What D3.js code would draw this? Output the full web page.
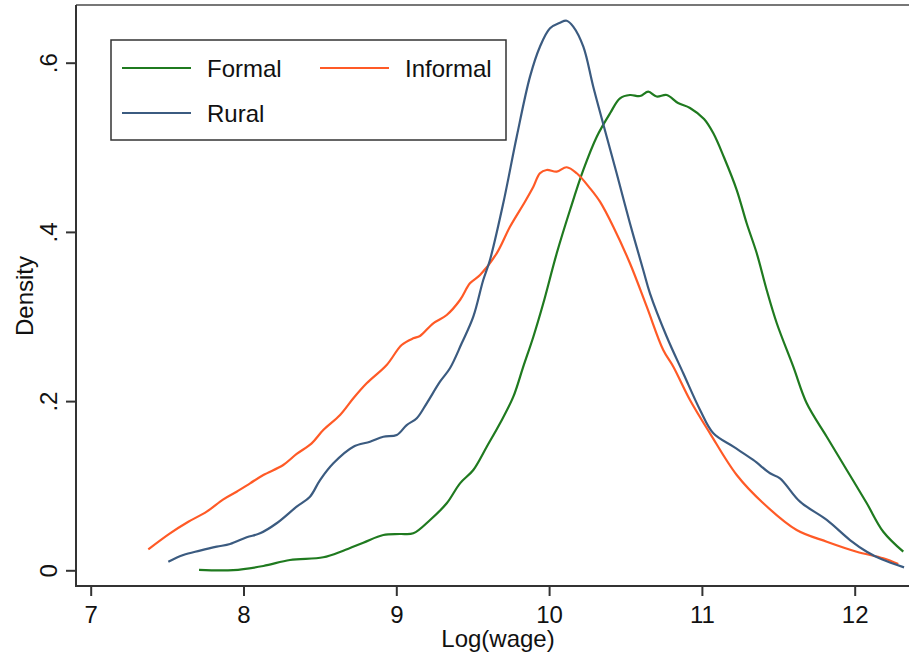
<!DOCTYPE html>
<html>
<head>
<meta charset="utf-8">
<script src="https://cdn.jsdelivr.net/npm/d3@7"></script>
<style>
  html, body { margin: 0; padding: 0; background: #fff; }
  svg text { font-family: "Liberation Sans", Arial, sans-serif; fill: #111; }
</style>
</head>
<body>
<svg id="chart" width="909" height="656"></svg>
<script>
// ---- data (log wage, density) ----
const formalX = [7.709,7.933,8.130,8.304,8.522,8.653,8.784,8.915,9.024,9.111,9.221,9.330,9.417,9.504,9.592,9.679,9.766,9.831,9.897,9.962,10.050,10.137,10.224,10.312,10.399,10.464,10.529,10.595,10.649,10.704,10.770,10.844,10.922,11.014,11.075,11.145,11.228,11.293,11.359,11.424,11.490,11.598,11.686,11.817,11.948,12.079,12.187,12.318];
const formalY = [0.0005,0.0002,0.0051,0.0122,0.0154,0.0232,0.0326,0.0417,0.0429,0.0437,0.0595,0.0792,0.1028,0.1186,0.1461,0.1738,0.2052,0.2407,0.2761,0.3156,0.3747,0.4259,0.4732,0.5125,0.5402,0.5579,0.5618,0.5606,0.5657,0.5600,0.5618,0.5524,0.5465,0.5334,0.5165,0.4879,0.4495,0.4102,0.3747,0.3313,0.2920,0.2407,0.1974,0.1579,0.1186,0.0792,0.0456,0.0220];

const informalX = [7.377,7.519,7.639,7.759,7.868,7.955,8.043,8.130,8.260,8.348,8.446,8.522,8.632,8.719,8.806,8.937,9.035,9.111,9.155,9.242,9.330,9.417,9.482,9.548,9.657,9.744,9.842,9.897,9.940,9.984,10.050,10.115,10.181,10.268,10.333,10.420,10.529,10.639,10.747,10.813,10.922,11.053,11.228,11.402,11.620,11.817,12.013,12.187,12.285];
const informalY = [0.0248,0.0437,0.0574,0.0693,0.0839,0.0929,0.1028,0.1126,0.1245,0.1375,0.1501,0.1658,0.1836,0.2033,0.2210,0.2427,0.2663,0.2742,0.2770,0.2920,0.3018,0.3195,0.3392,0.3491,0.3747,0.4061,0.4357,0.4534,0.4693,0.4732,0.4712,0.4764,0.4693,0.4515,0.4357,0.4061,0.3629,0.3116,0.2604,0.2407,0.2013,0.1619,0.1126,0.0792,0.0476,0.0338,0.0220,0.0142,0.0074];

const ruralX = [7.508,7.606,7.715,7.825,7.912,8.021,8.108,8.217,8.348,8.435,8.501,8.588,8.719,8.828,8.915,9.003,9.068,9.134,9.199,9.286,9.351,9.428,9.504,9.569,9.613,9.700,9.788,9.875,9.940,10.006,10.071,10.115,10.158,10.224,10.289,10.377,10.442,10.529,10.616,10.660,10.770,10.878,10.988,11.075,11.206,11.336,11.446,11.511,11.642,11.817,11.969,12.079,12.177,12.323];
const ruralY = [0.0102,0.0181,0.0232,0.0279,0.0311,0.0390,0.0437,0.0556,0.0752,0.0870,0.1067,0.1265,0.1461,0.1520,0.1579,0.1599,0.1717,0.1797,0.1974,0.2229,0.2388,0.2683,0.2998,0.3431,0.3668,0.4338,0.5125,0.5835,0.6189,0.6407,0.6473,0.6496,0.6426,0.6189,0.5716,0.5125,0.4693,0.4102,0.3550,0.3274,0.2761,0.2329,0.1895,0.1619,0.1461,0.1304,0.1147,0.1087,0.0811,0.0595,0.0358,0.0220,0.0130,0.0035];

const seriesNames = ["Formal", "Informal", "Rural"];
const seriesColors = ["#1f7a1f", "#ff5a26", "#3b5b80"];
const xTicks = [7, 8, 9, 10, 11, 12];
const yTicks = [0, 0.2, 0.4, 0.6];
const yTickLabels = ["0", ".2", ".4", ".6"];
const xTitle = "Log(wage)";
const yTitle = "Density";

(function () {
// ---- layout ----
const svg = d3.select("#chart");
const pLeft = 76, pRight = 909, pTop = 5, pBottom = 586;
const x = d3.scaleLinear().domain([7, 12]).range([90.7, 854.7]);
const y = d3.scaleLinear().domain([0, 0.6]).range([570.3, 62.7]);
const axisColor = "#333";

// frame: top line
svg.append("line").attr("x1", pLeft).attr("x2", pRight).attr("y1", pTop).attr("y2", pTop)
  .attr("stroke", "#777").attr("stroke-width", 2);

// x axis
const gx = svg.append("g").attr("transform", `translate(0,${pBottom})`)
  .call(d3.axisBottom(x).tickValues(xTicks).tickSize(10).tickPadding(8).tickFormat(d3.format("d")));
gx.select(".domain").remove();
gx.selectAll(".tick line").attr("stroke", axisColor).attr("stroke-width", 2);
gx.selectAll(".tick text").attr("font-size", 24).attr("dy", null).attr("y", 37).attr("fill", "#111");

// y axis
const gy = svg.append("g").attr("transform", `translate(${pLeft},0)`)
  .call(d3.axisLeft(y).tickValues(yTicks).tickSize(10).tickFormat((d, i) => yTickLabels[i]));
gy.select(".domain").remove();
gy.selectAll(".tick line").attr("stroke", axisColor).attr("stroke-width", 2);
gy.selectAll(".tick text").attr("font-size", 24).attr("x", null).attr("dy", null)
  .attr("text-anchor", "middle")
  .attr("transform", "translate(-19,0) rotate(-90)").attr("fill", "#111");

// axis lines
svg.append("line").attr("x1", pLeft).attr("x2", pLeft).attr("y1", pTop).attr("y2", pBottom + 1)
  .attr("stroke", axisColor).attr("stroke-width", 2);
svg.append("line").attr("x1", pLeft - 1).attr("x2", pRight).attr("y1", pBottom).attr("y2", pBottom)
  .attr("stroke", axisColor).attr("stroke-width", 2);

// titles
svg.append("text").attr("x", 498).attr("y", 647).attr("text-anchor", "middle")
  .attr("font-size", 24).text(xTitle);
svg.append("text").attr("transform", "translate(33,296) rotate(-90)").attr("text-anchor", "middle")
  .attr("font-size", 24).text(yTitle);

// lines
const series = [
  { name: seriesNames[0], xs: formalX, ys: formalY, color: seriesColors[0] },
  { name: seriesNames[1], xs: informalX, ys: informalY, color: seriesColors[1] },
  { name: seriesNames[2], xs: ruralX, ys: ruralY, color: seriesColors[2] }
];
const line = d3.line().x(d => x(d[0])).y(d => y(d[1])).curve(d3.curveCatmullRom.alpha(0.5));
series.forEach(s => {
  svg.append("path")
    .datum(s.xs.map((v, i) => [v, s.ys[i]]))
    .attr("d", line).attr("fill", "none")
    .attr("stroke", s.color).attr("stroke-width", 2.2)
    .attr("stroke-linejoin", "round");
});

// legend
const lg = svg.append("g");
lg.append("rect").attr("x", 111).attr("y", 40).attr("width", 395).attr("height", 100)
  .attr("fill", "#fff").attr("stroke", "#333").attr("stroke-width", 1.5);
const legendPos = [[122, 68], [320, 68], [122, 113]];
series.forEach((s, i) => {
  const [lx, ly] = legendPos[i];
  lg.append("line").attr("x1", lx).attr("x2", lx + 69).attr("y1", ly).attr("y2", ly)
    .attr("stroke", s.color).attr("stroke-width", 2.2);
  lg.append("text").attr("x", lx + 85).attr("y", ly + 9).attr("font-size", 24).text(s.name);
});
})();
</script>
</body>
</html>
